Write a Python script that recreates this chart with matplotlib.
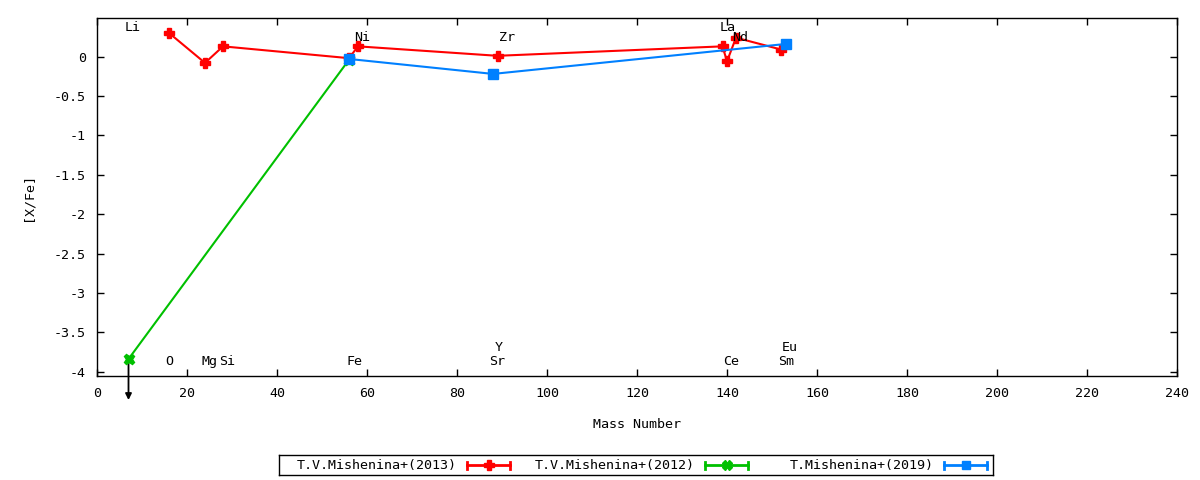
import matplotlib
matplotlib.use("Agg")
import matplotlib.pyplot as plt
from matplotlib.ticker import MultipleLocator, FormatStrFormatter

plt.rcParams['font.family'] = ['DejaVu Sans Mono']
plt.rcParams['axes.unicode_minus'] = False

# data (mass number, [X/Fe])
mish2013_A = [16, 24, 28, 56, 58, 89, 139, 140, 142, 152]
mish2013_XFe = [0.30, -0.08, 0.13, -0.02, 0.13, 0.01, 0.13, -0.06, 0.24, 0.09]

mish2012_A = [7, 56]
mish2012_XFe = [-3.84, -0.04]

mish2019_A = [56, 88, 153]
mish2019_XFe = [-0.03, -0.22, 0.16]

series_names = ['T.V.Mishenina+(2013)', 'T.V.Mishenina+(2012)', 'T.Mishenina+(2019)']

# element labels (text, x, y)
elem_labels = [
    ('Li', 7.9, 0.37), ('La', 140.2, 0.37),
    ('Ni', 58.9, 0.24), ('Zr', 91.1, 0.24), ('Nd', 142.9, 0.24),
    ('Y', 89.3, -3.69), ('Eu', 154.0, -3.69),
    ('O', 16.0, -3.87), ('Mg', 24.9, -3.87), ('Si', 28.9, -3.87),
    ('Fe', 57.2, -3.87), ('Sr', 88.9, -3.87), ('Ce', 140.9, -3.87),
    ('Sm', 153.1, -3.87),
]

c_red = '#ff0000'
c_green = '#00c000'
c_blue = '#0080ff'
fs = 9.6

fig = plt.figure(figsize=(12, 4.8), dpi=100)
ax = fig.add_axes([97/1200, 1-376/480, 1080/1200, 358/480])

ax.plot(mish2013_A, mish2013_XFe, color=c_red, lw=1.5, marker='P', ms=7.5,
        mec=c_red, mfc=c_red, zorder=3)
ax.plot(mish2012_A, mish2012_XFe, color=c_green, lw=1.5, marker='X', ms=7.5,
        mec=c_green, mfc=c_green, zorder=3)
ax.plot(mish2019_A, mish2019_XFe, color=c_blue, lw=1.5, marker='s', ms=7,
        mec=c_blue, mfc=c_blue, zorder=4)

# upper limit arrow for Li
ax.annotate('', xy=(mish2012_A[0], mish2012_XFe[0] - 0.52),
            xytext=(mish2012_A[0], mish2012_XFe[0]),
            arrowprops=dict(arrowstyle='-|>', color='black', lw=1.3,
                            mutation_scale=9, shrinkA=0, shrinkB=0),
            annotation_clip=False, zorder=2)

for name, x, y in elem_labels:
    ax.text(x, y, name, ha='center', va='center', fontsize=fs, zorder=5)

ax.set_xlim(0, 240)
ax.set_ylim(-4.055, 0.49)
ax.xaxis.set_major_locator(MultipleLocator(20))
ax.yaxis.set_major_locator(MultipleLocator(0.5))
ax.yaxis.set_major_formatter(FormatStrFormatter('%g'))
ax.tick_params(direction='in', top=True, right=True, length=5, width=1,
               labelsize=fs, pad=8)
for s in ax.spines.values():
    s.set_linewidth(1)
ax.set_xlabel('Mass Number', fontsize=fs, labelpad=13)
ax.set_ylabel('[X/Fe]', fontsize=fs, labelpad=14)

# gnuplot-style key box
lax = fig.add_axes([279/1200, 1-475/480, 714/1200, 20/480])
lax.set_xlim(0, 714)
lax.set_ylim(0, 20)
lax.set_xticks([])
lax.set_yticks([])
for s in lax.spines.values():
    s.set_linewidth(1)
key_text_right = [178, 416, 655]
key_colors = [c_red, c_green, c_blue]
key_markers = ['P', 'X', 's']
for name, xr, c, m in zip(series_names, key_text_right, key_colors, key_markers):
    lax.text(xr, 10, name, ha='right', va='center', fontsize=fs)
    x0, x1 = xr + 10, xr + 53
    lax.plot([x0, x1], [10, 10], color=c, lw=2)
    lax.plot([x0, x0], [6.5, 13.5], color=c, lw=2)
    lax.plot([x1, x1], [6.5, 13.5], color=c, lw=2)
    lax.plot([(x0 + x1) / 2], [10], marker=m, color=c, ms=7 if m != 's' else 6)

fig.savefig('out.png', dpi=100)
